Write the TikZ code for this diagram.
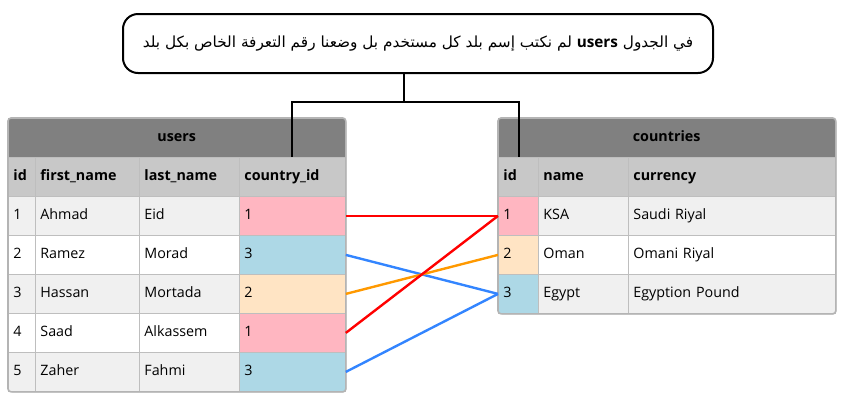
\documentclass[tikz,border=0pt]{standalone}
\usepackage{fontspec}
\setmainfont{Open Sans}
\newfontfamily\arabicfont[Script=Arabic]{DejaVu Sans}
\TeXXeTstate=1
\usetikzlibrary{calc}
\definecolor{titlegray}{HTML}{808080}
\definecolor{headgray}{HTML}{C8C8C8}
\definecolor{rowgray}{HTML}{F0F0F0}
\definecolor{gridgray}{HTML}{BEBEBE}
\definecolor{bordergray}{HTML}{B4B4B4}
\definecolor{pinkc}{HTML}{FFB6C1}
\definecolor{bluec}{HTML}{ADD8E6}
\definecolor{bisquec}{HTML}{FFE4C4}
\definecolor{linkred}{HTML}{FF0000}
\definecolor{linkblue}{HTML}{3385FF}
\definecolor{linkorange}{HTML}{FF9900}
\tikzset{
  cellbox/.style={draw=gridgray, line width=0.8pt, anchor=north west, minimum height=39pt,
    inner xsep=5pt, inner ysep=0pt, align=left, text height=10.5pt, text depth=3.5pt,
    font=\fontsize{14.3}{16}\selectfont},
  titlebox/.style={fill=titlegray, anchor=north west, minimum height=39pt, minimum width=337pt,
    inner sep=0pt, text height=10.5pt, text depth=3.5pt, font=\fontsize{14.3}{16}\selectfont\bfseries},
  tableborder/.style={draw=bordergray, line width=1.6pt, rounded corners=3pt},
  tableshadow/.style={fill=black!18, rounded corners=3pt},
  callout/.style={draw=black, line width=2pt, rounded corners=15pt, fill=white,
    minimum width=590pt, minimum height=59pt, inner sep=0pt},
  conn/.style={draw=black, line width=2.4pt},
  link/.style={line width=2.4pt}
}
\newcommand\mkcell[6]{\pgfmathsetmacro\mkw{#4-10}\node[cellbox,fill=#5,text width=\mkw pt] (#1) at (#2,#3) {#6};}
\begin{document}
\begin{tikzpicture}[x=1pt,y=-1pt]
\useasboundingbox (0,0) rectangle (844,405);
% ---------- users table ----------
\fill[tableshadow] (9.5,119.5) rectangle (346.5,392.5);
\node[titlebox] (utitle) at (8,118) {users};
\mkcell{uh1}{8}{157}{27}{headgray}{\bfseries id}
\mkcell{uh2}{35}{157}{104}{headgray}{\bfseries first\_name}
\mkcell{uh3}{139}{157}{100}{headgray}{\bfseries last\_name}
\mkcell{uh4}{239}{157}{106}{headgray}{\bfseries country\_id}
% row 1
\mkcell{u11}{8}{196}{27}{rowgray}{1}
\mkcell{u12}{35}{196}{104}{rowgray}{Ahmad}
\mkcell{u13}{139}{196}{100}{rowgray}{Eid}
\mkcell{u14}{239}{196}{106}{pinkc}{1}
% row 2
\mkcell{u21}{8}{235}{27}{white}{2}
\mkcell{u22}{35}{235}{104}{white}{Ramez}
\mkcell{u23}{139}{235}{100}{white}{Morad}
\mkcell{u24}{239}{235}{106}{bluec}{3}
% row 3
\mkcell{u31}{8}{274}{27}{rowgray}{3}
\mkcell{u32}{35}{274}{104}{rowgray}{Hassan}
\mkcell{u33}{139}{274}{100}{rowgray}{Mortada}
\mkcell{u34}{239}{274}{106}{bisquec}{2}
% row 4
\mkcell{u41}{8}{313}{27}{white}{4}
\mkcell{u42}{35}{313}{104}{white}{Saad}
\mkcell{u43}{139}{313}{100}{white}{Alkassem}
\mkcell{u44}{239}{313}{106}{pinkc}{1}
% row 5
\mkcell{u51}{8}{352}{27}{rowgray}{5}
\mkcell{u52}{35}{352}{104}{rowgray}{Zaher}
\mkcell{u53}{139}{352}{100}{rowgray}{Fahmi}
\mkcell{u54}{239}{352}{106}{bluec}{3}
\draw[tableborder] (utitle.north west) rectangle (u54.south east);
% ---------- countries table ----------
\fill[tableshadow] (499.5,119.5) rectangle (836.5,314.5);
\node[titlebox] (ctitle) at (498,118) {countries};
\mkcell{ch1}{498}{157}{40}{headgray}{\bfseries id}
\mkcell{ch2}{538}{157}{90}{headgray}{\bfseries name}
\mkcell{ch3}{628}{157}{207}{headgray}{\bfseries currency}
\mkcell{c11}{498}{196}{40}{pinkc}{1}
\mkcell{c12}{538}{196}{90}{rowgray}{KSA}
\mkcell{c13}{628}{196}{207}{rowgray}{Saudi Riyal}
\mkcell{c21}{498}{235}{40}{bisquec}{2}
\mkcell{c22}{538}{235}{90}{white}{Oman}
\mkcell{c23}{628}{235}{207}{white}{Omani Riyal}
\mkcell{c31}{498}{274}{40}{bluec}{3}
\mkcell{c32}{538}{274}{90}{rowgray}{Egypt}
\mkcell{c33}{628}{274}{207}{rowgray}{Egyption Pound}
\draw[tableborder] (ctitle.north west) rectangle (c33.south east);
% ---------- links ----------
\draw[link, linkred] (u14.east) -- (c11.west);
\draw[link, linkblue] (u24.east) -- (c31.west);
\draw[link, linkorange] (u34.east) -- (c21.west);
\draw[link, linkred] (u44.east) -- (c11.west);
\draw[link, linkblue] (u54.east) -- (c31.west);
% ---------- callout ----------
\node[callout] (note) at (418,43.5) {\fontsize{15.3}{18}\selectfont\arabicfont\beginR في الجدول \beginL{\normalfont\fontsize{15.3}{18}\selectfont\bfseries users}\endL{} لم نكتب إسم بلد كل مستخدم بل وضعنا رقم التعرفة الخاص بكل بلد\endR};
\coordinate (j) at (404,102);
\coordinate (ua) at (292,157);
\coordinate (ca) at (519,157);
\draw[conn] (note.south -| j) -- (j) -| (ua);
\draw[conn] (j) -| (ca);
\end{tikzpicture}
\end{document}
